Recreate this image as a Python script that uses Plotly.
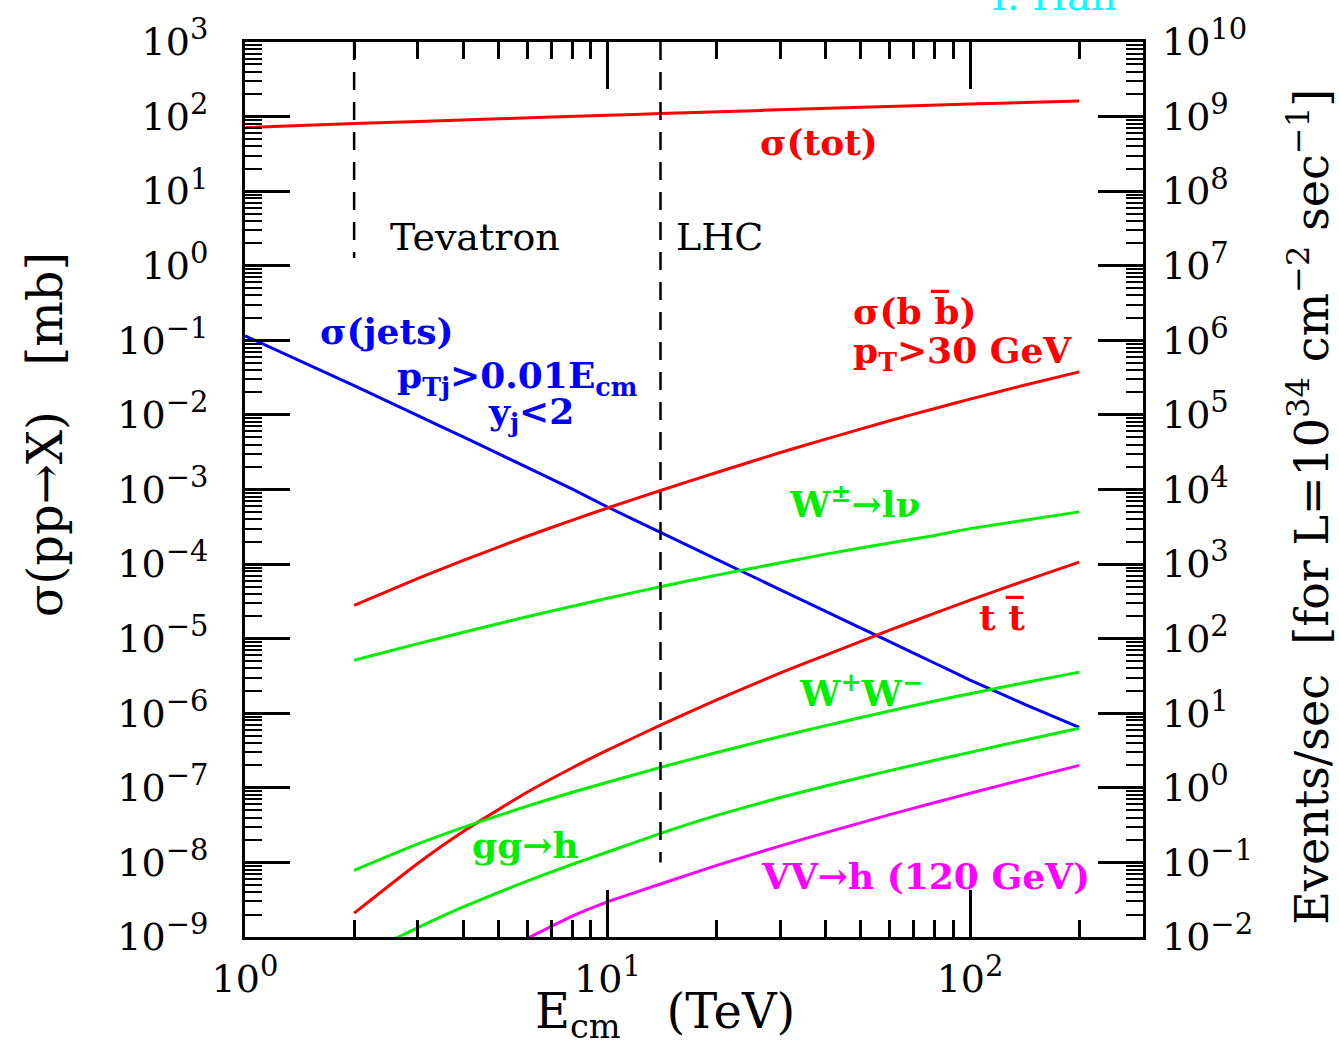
import math
import plotly.graph_objects as go

# ---------------- data ----------------
E_tot = [1, 2, 5, 10, 14, 50, 100, 200]
sig_tot = [71.1, 80.5, 93.3, 104, 110, 133, 147, 162]

E_jets = [1, 2, 3, 4, 6, 8, 10, 14, 20, 30, 40, 60, 80, 100, 140, 200]
sig_jets = [1.15e-1, 2.47e-2, 9.79e-3, 5.06e-3, 1.98e-3, 1.01e-3, 5.82e-4, 2.66e-4,
            1.16e-4, 4.52e-5, 2.32e-5, 9.12e-6, 4.68e-6, 2.79e-6, 1.35e-6, 6.46e-7]

E_bb = [2, 3, 4, 6, 8, 10, 14, 20, 30, 40, 60, 80, 100, 140, 200]
sig_bb = [2.79e-5, 6.44e-5, 1.12e-4, 2.36e-4, 3.88e-4, 5.65e-4, 9.70e-4, 1.69e-3,
          3.13e-3, 4.74e-3, 8.36e-3, 1.22e-2, 1.63e-2, 2.48e-2, 3.78e-2]

E_W = [2, 3, 4, 6, 8, 10, 14, 20, 30, 40, 60, 80, 100, 140, 200]
sig_W = [5.13e-6, 8.57e-6, 1.22e-5, 1.97e-5, 2.72e-5, 3.48e-5, 4.98e-5, 7.11e-5,
         1.04e-4, 1.36e-4, 1.92e-4, 2.42e-4, 2.99e-4, 3.85e-4, 5.01e-4]

E_tt = [2, 3, 4, 6, 8, 10, 14, 20, 30, 40, 60, 80, 100, 140, 200]
sig_tt = [2.09e-9, 9.77e-9, 2.60e-8, 8.71e-8, 1.86e-7, 3.20e-7, 6.92e-7, 1.51e-6,
          3.47e-6, 6.03e-6, 1.30e-5, 2.20e-5, 3.28e-5, 5.85e-5, 1.06e-4]

E_WW = [2, 3, 4, 6, 8, 10, 14, 20, 30, 40, 60, 80, 100, 140, 200]
sig_WW = [7.85e-9, 1.77e-8, 2.95e-8, 5.69e-8, 8.71e-8, 1.19e-7, 1.88e-7, 2.98e-7,
          4.89e-7, 6.82e-7, 1.07e-6, 1.46e-6, 1.83e-6, 2.54e-6, 3.56e-6]

E_ggh = [2.5, 3, 4, 6, 8, 10, 14, 20, 30, 40, 60, 80, 100, 140, 200]
sig_ggh = [8.71e-10, 1.34e-9, 2.53e-9, 5.62e-9, 9.44e-9, 1.38e-8, 2.45e-8, 4.27e-8,
           7.41e-8, 1.06e-7, 1.70e-7, 2.34e-7, 2.99e-7, 4.32e-7, 6.31e-7]

E_vvh = [6, 8, 10, 14, 20, 30, 40, 60, 80, 100, 140, 200]
sig_vvh = [9.55e-10, 1.91e-9, 2.95e-9, 5.13e-9, 9.12e-9, 1.67e-8, 2.51e-8, 4.37e-8,
           6.35e-8, 8.45e-8, 1.29e-7, 2.0e-7]

tev_x = [2, 2]
tev_y = [1e3, 1.27]
lhc_x = [14, 14]
lhc_y = [1e3, 1e-8]

left_exps = list(range(-9, 4))
right_exps = list(range(-2, 11))
x_exps = [0, 1, 2]
lumi_factor = 1e7  # mb -> events/sec at L=1e34


def pow_label(e):
    s = str(e).replace("-", "\u2212")
    return "10<sup><span style='font-size:29px'>" + s + "</span></sup>"


RED = "#ff0000"
BLUE = "#0000ff"
GREEN = "#00ee00"
MAG = "#ff00ff"
FONT = "DejaVu Serif"

fig = go.Figure()


def curve(x, y, color):
    fig.add_trace(go.Scatter(x=x, y=y, mode="lines",
                             line=dict(color=color, width=3, shape="spline", smoothing=0.5),
                             showlegend=False, hoverinfo="skip"))


curve(E_tot, sig_tot, RED)
curve(E_jets, sig_jets, BLUE)
curve(E_bb, sig_bb, RED)
curve(E_W, sig_W, GREEN)
curve(E_tt, sig_tt, RED)
curve(E_WW, sig_WW, GREEN)
curve(E_ggh, sig_ggh, GREEN)
curve(E_vvh, sig_vvh, MAG)

for xs, ys in [(tev_x, tev_y), (lhc_x, lhc_y)]:
    fig.add_trace(go.Scatter(x=xs, y=ys, mode="lines",
                             line=dict(color="black", width=2.5, dash="18px,12px"),
                             showlegend=False, hoverinfo="skip"))

# invisible trace to carry the right-hand (events/sec) axis
fig.add_trace(go.Scatter(x=E_tot, y=[v * lumi_factor for v in sig_tot], yaxis="y2",
                         mode="lines", line=dict(width=0), opacity=0,
                         showlegend=False, hoverinfo="skip"))


def ann(text, x, y, color, size=36, xanchor="left", bold=True):
    if bold:
        text = "<b>" + text + "</b>"
    fig.add_annotation(text=text, x=x, y=y, xref="x", yref="y", showarrow=False,
                       xanchor=xanchor, yanchor="middle",
                       font=dict(family=FONT, size=size, color=color))


ann("Tevatron", 0.634, 0.39, "black", size=38, xanchor="center", bold=False)
ann("LHC", 1.309, 0.39, "black", size=38, xanchor="center", bold=False)
ann("σ(tot)", 1.584, 1.665, RED, xanchor="center")
ann("σ(b b\u0305)", 1.672, -0.604, RED)
ann("p<sub>T</sub>&gt;30 GeV", 1.672, -1.164, RED)
ann("σ(jets)", 0.201, -0.871, BLUE)
ann("p<sub>Tj</sub>&gt;0.01E<sub>cm</sub>", 0.413, -1.51, BLUE)
ann("y<sub>j</sub>&lt;2", 0.664, -1.99, BLUE)
ann("W<sup>±</sup>→lν", 1.496, -3.167, GREEN)
ann("t t\u0305", 2.019, -4.70, RED)
ann("W<sup>+</sup>W<sup>−</sup>", 1.523, -5.70, GREEN)
ann("gg→h", 0.620, -7.77, GREEN)
ann("VV→h (120 GeV)", 1.419, -8.185, MAG)

# axis titles as annotations (paper coordinates)
fig.add_annotation(text="σ(pp→X)\u00a0\u00a0\u00a0[mb]", xref="paper", yref="paper",
                   x=-0.2227, y=0.5617, textangle=-90, showarrow=False,
                   xanchor="center", yanchor="middle",
                   font=dict(family=FONT, size=48, color="black"))
fig.add_annotation(text="Events/sec\u00a0\u00a0[for L=10<sup>34</sup> cm<sup>−2</sup> sec<sup>−1</sup>]",
                   xref="paper", yref="paper", x=1.1845, y=0.4805, textangle=-90,
                   showarrow=False, xanchor="center", yanchor="middle",
                   font=dict(family=FONT, size=46, color="black"))
fig.add_annotation(text="E<sub>cm</sub>\u00a0\u00a0\u00a0(TeV)", xref="paper", yref="paper",
                   x=0.4677, y=-0.0868, showarrow=False, xanchor="center", yanchor="middle",
                   font=dict(family=FONT, size=48, color="black"))
fig.add_annotation(text="T. Han", xref="paper", yref="paper", x=0.8976, y=1.0512,
                   showarrow=False, xanchor="center", yanchor="middle",
                   font=dict(family=FONT, size=40, color="#00ffff"))

tickfont = dict(family=FONT, size=38, color="black")

fig.update_layout(
    width=1339, height=1045, autosize=False,
    margin=dict(l=245, r=196, t=38, b=108, pad=0),
    paper_bgcolor="white", plot_bgcolor="white",
    xaxis=dict(type="log", range=[0, math.log10(300)],
               tickmode="array", tickvals=[10 ** e for e in x_exps],
               ticktext=[pow_label(e) for e in x_exps],
               ticks="inside", ticklen=47, tickwidth=2.5, tickcolor="black",
               minor=dict(ticks="inside", ticklen=17, tickwidth=2.5, tickcolor="black", dtick="D1"),
               showline=True, linewidth=3, linecolor="black", mirror="ticks",
               showgrid=False, zeroline=False, tickfont=tickfont, ticklabelstandoff=6),
    yaxis=dict(type="log", range=[-9, 3],
               tickmode="array", tickvals=[10 ** e for e in left_exps],
               ticktext=[pow_label(e) for e in left_exps],
               ticks="inside", ticklen=45, tickwidth=2.5, tickcolor="black",
               minor=dict(ticks="inside", ticklen=17, tickwidth=2, tickcolor="black", dtick="D1"),
               showline=True, linewidth=3, linecolor="black", mirror="ticks",
               showgrid=False, zeroline=False, tickfont=tickfont, ticklabelstandoff=26),
    yaxis2=dict(type="log", range=[-2, 10], overlaying="y", side="right",
                tickmode="array", tickvals=[10 ** e for e in right_exps],
                ticktext=[pow_label(e) for e in right_exps],
                ticks="", showline=False, showgrid=False, zeroline=False,
                tickfont=tickfont, ticklabelstandoff=18),
)

fig.write_html("out.html", config={"displayModeBar": False},
               post_script="document.body.style.margin='0px';")
